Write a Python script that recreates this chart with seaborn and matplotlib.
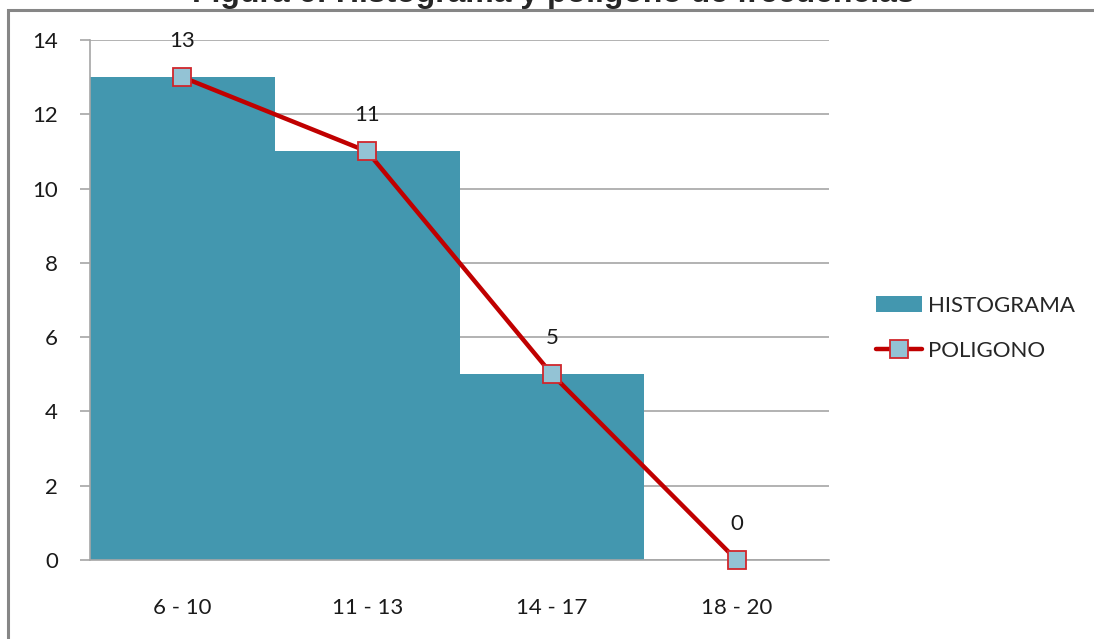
import numpy as np
import pandas as pd
import matplotlib
matplotlib.use('Agg')
import matplotlib.pyplot as plt
import matplotlib.ticker as ticker
from matplotlib.lines import Line2D
from matplotlib.patches import Patch, Rectangle
import seaborn as sns

# datos
clases = ['6 - 10', '11 - 13', '14 - 17', '18 - 20']
histograma = [13, 11, 5, 0]
poligono = [13, 11, 5, 0]

df = pd.DataFrame({'clase': clases, 'histograma': histograma, 'poligono': poligono})

sns.set_style('white')
plt.rcParams['font.family'] = ['Lato', 'DejaVu Sans']

fig = plt.figure(figsize=(10.94, 6.39), dpi=100)
ax = fig.add_axes([0.0823, 0.1236, 0.6755, 0.8138])

# marco del grafico
fig.patches.append(Rectangle((8 / 1094, -0.05), 1.2, 1 - 10 / 639 + 0.05, transform=fig.transFigure,
                             fill=False, edgecolor='#868686', linewidth=2.2, zorder=0))

sns.barplot(data=df, x='clase', y='histograma', color='#4397AF', saturation=1, width=1,
            edgecolor='none', ax=ax, zorder=2)
sns.pointplot(data=df, x='clase', y='poligono', color='#C00000', markers='s', linestyles='-',
              errorbar=None, ax=ax, markersize=13, linewidth=3.2,
              markerfacecolor='#93C3D5', markeredgecolor='#D0262C', markeredgewidth=1.3, zorder=4)
for ln in ax.lines:
    ln.set_clip_on(False)

for i, v in enumerate(poligono):
    ax.annotate(str(v), (i, v), xytext=(0, 26), textcoords='offset points',
                ha='center', va='center', fontsize=16, color='#1a1a1a')

ax.set_xlim(-0.5, 3.5)
ax.set_ylim(0, 14)
ax.yaxis.set_major_locator(ticker.MultipleLocator(2))
ax.grid(axis='y', color='#A6A6A6', linewidth=1.2, zorder=0)
ax.set_axisbelow(True)

ax.set_xticks(range(4))
ax.set_xticklabels(clases)
ax.set_xticks(np.arange(-0.5, 4, 1), minor=True)
ax.tick_params(axis='x', which='major', length=0, pad=27, labelsize=16, labelcolor='#1a1a1a')
ax.tick_params(axis='x', which='minor', length=7, width=1.2, color='#A6A6A6', direction='out')
ax.tick_params(axis='y', length=7, width=1.2, color='#A6A6A6', direction='out', pad=16,
               labelsize=16, labelcolor='#1a1a1a', left=True)
ax.set_xlabel('')
ax.set_ylabel('')

for s in ['top', 'right']:
    ax.spines[s].set_visible(False)
for s in ['left', 'bottom']:
    ax.spines[s].set_color('#A6A6A6')
    ax.spines[s].set_linewidth(1.2)

handles = [Patch(facecolor='#4397AF', edgecolor='none'),
           Line2D([], [], color='#C00000', linewidth=3.2, marker='s', markersize=13,
                  markerfacecolor='#93C3D5', markeredgecolor='#D0262C', markeredgewidth=1.3)]
fig.legend(handles, ['HISTOGRAMA', 'POLIGONO'], loc='center left', bbox_to_anchor=(0.782, 0.486),
           frameon=False, fontsize=16, handlelength=2.1, handletextpad=0.25, labelspacing=1.15)

fig.text(0.506, 1 - 9 / 639, 'Figura 6: Histograma y polígono de frecuencias', ha='center', va='bottom',
         fontsize=23, fontweight='bold', family=['Liberation Sans', 'DejaVu Sans'])

plt.savefig('out.png', dpi=100)
